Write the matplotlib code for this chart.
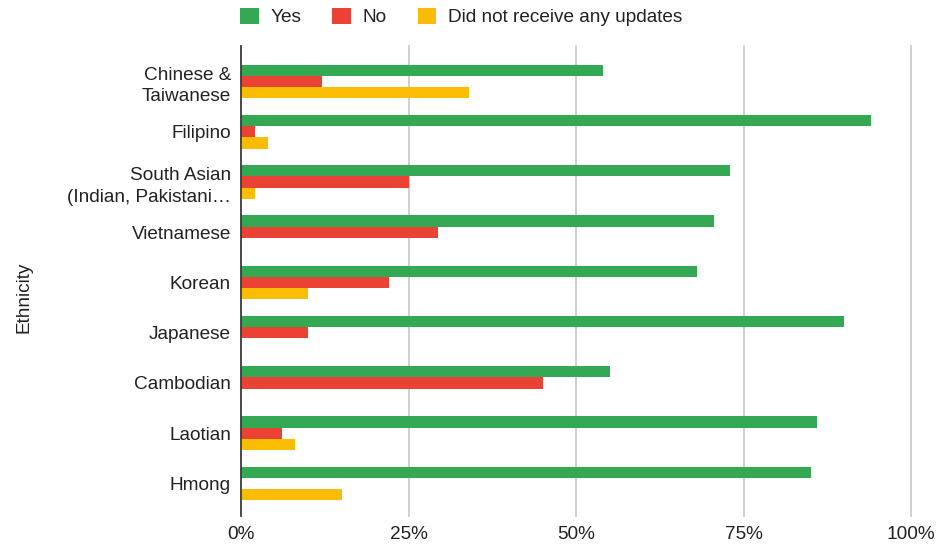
import numpy as np
import matplotlib
matplotlib.use("Agg")
import matplotlib.pyplot as plt
from matplotlib.patches import Patch
from matplotlib.ticker import PercentFormatter

plt.rcParams['font.family'] = ['Liberation Sans', 'DejaVu Sans']

ethnicities = ["Chinese &\nTaiwanese", "Filipino", "South Asian\n(Indian, Pakistani\u2026",
               "Vietnamese", "Korean", "Japanese", "Cambodian", "Laotian", "Hmong"]
yes = [54, 94, 73, 70.6, 68, 90, 55, 86, 85]
no = [12, 2, 25, 29.4, 22, 10, 45, 6, 0]
no_updates = [34, 4, 2, 0, 10, 0, 0, 8, 15]

series = [("Yes", yes, "#34A853"),
          ("No", no, "#EA4335"),
          ("Did not receive any updates", no_updates, "#FBBC04")]

fs = 13.7
fig = plt.figure(figsize=(9.36, 5.45), dpi=100)
ax = fig.add_axes([0.2578, 0.0532, 0.7158, 0.8624])

y = np.arange(len(ethnicities))
h = 0.223
for i, (name, vals, col) in enumerate(series):
    ax.barh(y + (i - 1) * h, vals, height=h, color=col, label=name, zorder=3)

ax.set_xlim(0, 100)
ax.set_ylim(8.65, -0.71)
ax.set_xticks([0, 25, 50, 75, 100])
ax.xaxis.set_major_formatter(PercentFormatter(decimals=0))
ax.set_yticks(y)
ax.set_yticklabels(ethnicities, linespacing=1.35)
ax.tick_params(axis='both', length=0, labelsize=fs, colors='#222222')
ax.tick_params(axis='y', pad=7.5)
ax.tick_params(axis='x', pad=7)
ax.grid(axis='x', color='#cccccc', linewidth=1.3, zorder=0, clip_on=False)
for s in ['top', 'right', 'bottom']:
    ax.spines[s].set_visible(False)
ax.spines['left'].set_color('#333333')
ax.spines['left'].set_linewidth(1.2)
ax.spines['left'].set_zorder(4)

fig.text(24 / 936, 1 - 297 / 545, "Ethnicity", rotation=90, ha='center', va='center',
         fontsize=fs, color='#222222')

handles = [Patch(facecolor=c, edgecolor='none') for _, _, c in series]
fig.legend(handles, [n for n, _, _ in series], ncol=3, loc='center left',
           bbox_to_anchor=(223 / 936, 1 - 17 / 545), frameon=False, fontsize=fs,
           handlelength=0.97, handleheight=0.97, handletextpad=0.63, columnspacing=1.62,
           labelcolor='#222222')

fig.savefig("out.png", dpi=100)
